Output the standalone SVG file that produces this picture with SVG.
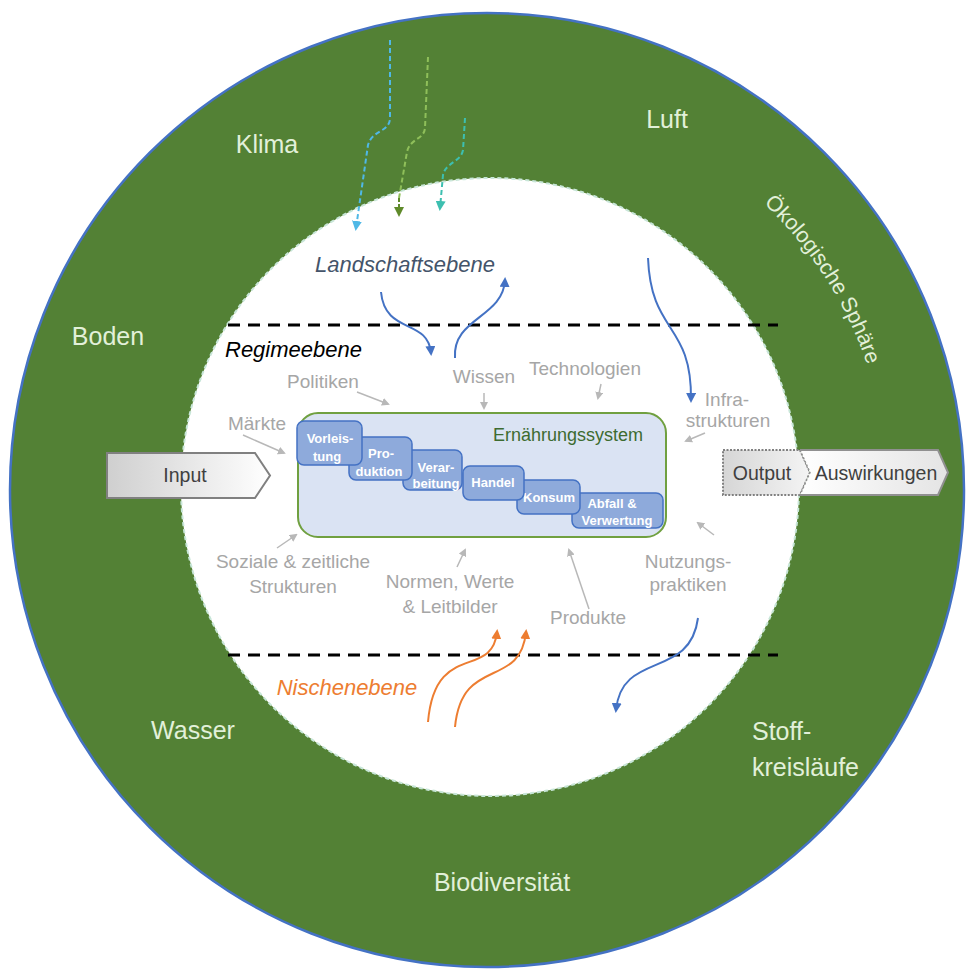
<svg xmlns="http://www.w3.org/2000/svg" width="967" height="976" viewBox="0 0 967 976">
<defs>
<style>
.eco{font-family:"Liberation Sans",Arial,sans-serif;font-size:25px;fill:#e2f0d9}
.lab{font-family:"Liberation Sans",Arial,sans-serif;font-size:19px;fill:#a6a6a6}
.lvl{font-family:"Liberation Sans",Arial,sans-serif;font-size:22px;font-style:italic}
.stp{font-family:"Liberation Sans",Arial,sans-serif;font-size:13px;font-weight:bold;fill:#ffffff;text-anchor:middle}
.box{fill:#8eaadb;stroke:#4472c4;stroke-width:1.5}
.io{font-family:"Liberation Sans",Arial,sans-serif;font-size:19.5px;fill:#404040;text-anchor:middle}
.garr{fill:none;stroke:#b8b8b8;stroke-width:1.5}
.barr{fill:none;stroke:#4472c4;stroke-width:2}
.oarr{fill:none;stroke:#ed7d31;stroke-width:2}
.dash{stroke:#000;stroke-width:3;stroke-dasharray:12 8}
</style>
<marker id="mg" markerWidth="8" markerHeight="8" refX="6" refY="4" orient="auto" markerUnits="userSpaceOnUse"><path d="M0,0 L8,4 L0,8 Z" fill="#b8b8b8"/></marker>
<marker id="mb" markerWidth="10" markerHeight="10" refX="7" refY="5" orient="auto" markerUnits="userSpaceOnUse"><path d="M0,0 L10,5 L0,10 Z" fill="#4472c4"/></marker>
<marker id="mo" markerWidth="10" markerHeight="10" refX="7" refY="5" orient="auto" markerUnits="userSpaceOnUse"><path d="M0,0 L10,5 L0,10 Z" fill="#ed7d31"/></marker>
<marker id="mlb" markerWidth="10" markerHeight="10" refX="7" refY="5" orient="auto" markerUnits="userSpaceOnUse"><path d="M0,0 L10,5 L0,10 Z" fill="#4fb8e6"/></marker>
<marker id="mol" markerWidth="10" markerHeight="10" refX="7" refY="5" orient="auto" markerUnits="userSpaceOnUse"><path d="M0,0 L10,5 L0,10 Z" fill="#5f8a2a"/></marker>
<marker id="mt" markerWidth="10" markerHeight="10" refX="7" refY="5" orient="auto" markerUnits="userSpaceOnUse"><path d="M0,0 L10,5 L0,10 Z" fill="#3dbfb0"/></marker>
<linearGradient id="gin" x1="0" y1="0" x2="1" y2="0"><stop offset="0" stop-color="#cfcfcf"/><stop offset="1" stop-color="#ffffff"/></linearGradient>
<linearGradient id="gout" x1="0" y1="0" x2="1" y2="0"><stop offset="0" stop-color="#d6d6d6"/><stop offset="1" stop-color="#f4f4f4"/></linearGradient>
<linearGradient id="gaus" x1="0" y1="0" x2="1" y2="0"><stop offset="0" stop-color="#ffffff"/><stop offset="1" stop-color="#e4e4e4"/></linearGradient>
<path id="arcEco" d="M738.2,181.3 A400,400 0 0 1 876.8,397.4"/>
</defs>

<g id="ecosphere">
<circle cx="487" cy="490" r="477" fill="#538135" stroke="#4472c4" stroke-width="2.5"/>
<circle cx="490" cy="487" r="309" fill="#ffffff" stroke="#c8e6d8" stroke-width="2" stroke-dasharray="4 3"/>
<text class="eco" x="267" y="153" text-anchor="middle">Klima</text>
<text class="eco" x="667" y="128" text-anchor="middle">Luft</text>
<text class="eco" x="108" y="345" text-anchor="middle">Boden</text>
<text class="eco" x="193" y="739" text-anchor="middle">Wasser</text>
<text class="eco" x="752" y="740">Stoff-</text>
<text class="eco" x="752" y="776">kreisläufe</text>
<text class="eco" x="502" y="891" text-anchor="middle">Biodiversität</text>
<text class="eco" style="font-size:21.5px"><textPath href="#arcEco" startOffset="50%" text-anchor="middle">Ökologische Sphäre</textPath></text>
</g>

<g id="levels">
<line class="dash" x1="228" y1="325" x2="778" y2="325"/>
<line class="dash" x1="228" y1="655" x2="778" y2="655"/>
<text class="lvl" x="405" y="272" text-anchor="middle" fill="#44546a">Landschaftsebene</text>
<text class="lvl" x="225" y="357" fill="#000000">Regimeebene</text>
<text class="lvl" x="347" y="695" text-anchor="middle" fill="#ed7d31">Nischenebene</text>
</g>

<g id="regime-labels">
<text class="lab" x="323" y="388" text-anchor="middle">Politiken</text>
<text class="lab" x="484" y="383" text-anchor="middle">Wissen</text>
<text class="lab" x="585" y="375" text-anchor="middle">Technologien</text>
<text class="lab" x="257" y="430" text-anchor="middle">Märkte</text>
<text class="lab" x="727" y="406" text-anchor="middle">Infra-</text>
<text class="lab" x="728" y="427" text-anchor="middle">strukturen</text>
<text class="lab" x="293" y="568" text-anchor="middle">Soziale &amp; zeitliche</text>
<text class="lab" x="293" y="593" text-anchor="middle">Strukturen</text>
<text class="lab" x="450" y="588" text-anchor="middle">Normen, Werte</text>
<text class="lab" x="450" y="613" text-anchor="middle">&amp; Leitbilder</text>
<text class="lab" x="588" y="624" text-anchor="middle">Produkte</text>
<text class="lab" x="688" y="568" text-anchor="middle">Nutzungs-</text>
<text class="lab" x="688" y="591" text-anchor="middle">praktiken</text>
</g>

<g id="food-system">
<rect x="298" y="413" width="368" height="124" rx="20" fill="#dae3f3" stroke="#70a040" stroke-width="2"/>
<text x="568" y="441" text-anchor="middle" style="font-family:'Liberation Sans',Arial,sans-serif;font-size:18px;fill:#3d6b30">Ernährungssystem</text>
</g>
<g id="abfall"><rect class="box" x="572" y="493" width="91" height="35" rx="7"/><text class="stp" x="612" y="508">Abfall &amp;</text><text class="stp" x="617" y="525">Verwertung</text></g>
<g id="konsum"><rect class="box" x="517" y="480" width="63" height="34" rx="7"/><text class="stp" x="549" y="502">Konsum</text></g>
<g id="handel"><rect class="box" x="463" y="466" width="61" height="34" rx="7"/><text class="stp" x="493" y="487">Handel</text></g>
<g id="verarbeitung"><rect class="box" x="403" y="450" width="59" height="40" rx="7"/><text class="stp" x="436" y="472">Verar-</text><text class="stp" x="436" y="488">beitung</text></g>
<g id="produktion"><rect class="box" x="349" y="437" width="63" height="43" rx="7"/><text class="stp" x="381" y="458">Pro-</text><text class="stp" x="379" y="476">duktion</text></g>
<g id="vorleistung"><rect class="box" x="297" y="421" width="65" height="44" rx="7"/><text class="stp" x="330" y="443">Vorleis-</text><text class="stp" x="327" y="461">tung</text></g>

<g id="input">
<polygon points="107,453 255,453 270,475.5 255,498 107,498" fill="url(#gin)" stroke="#808080" stroke-width="2"/>
<text class="io" x="185" y="482">Input</text>
</g>
<g id="output">
<polygon points="723,450 800,450 810,472.5 800,495 723,495" fill="url(#gout)" stroke="#808080" stroke-width="2" stroke-dasharray="2 1.5"/>
<polygon points="800,450 938,450 948,472.5 938,495 800,495 810,472.5" fill="url(#gaus)" stroke="none"/>
<polyline points="800,450 938,450 948,472.5 938,495 800,495" fill="none" stroke="#909090" stroke-width="2"/>
<polyline points="800,450 810,472.5 800,495" fill="none" stroke="#909090" stroke-width="1.5" stroke-dasharray="2 2"/>
<text class="io" x="762" y="480">Output</text>
<text class="io" x="876" y="480">Auswirkungen</text>
</g>

<g id="connectors">
<path d="M390,40 L390,118 C390,132 372,130 368,145 L356,228" fill="none" stroke="#4fb8e6" stroke-width="2" stroke-dasharray="5 3" marker-end="url(#mlb)"/>
<path d="M428,57 L425,128 C424,140 410,138 407,152 L399,198" fill="none" stroke="#8fbf5a" stroke-width="2" stroke-dasharray="5 3"/>
<path d="M399,198 L399,214" fill="none" stroke="#5f8a2a" stroke-width="2" stroke-dasharray="4 2" marker-end="url(#mol)"/>
<path d="M465,118 L463,150 C461,162 446,162 443,175 L440,208" fill="none" stroke="#3dbfb0" stroke-width="2" stroke-dasharray="5 3" marker-end="url(#mt)"/>
<path class="barr" d="M381,292 C385,335 428,318 431,353" marker-end="url(#mb)"/>
<path class="barr" d="M455,358 C452,318 503,318 505,280" marker-end="url(#mb)"/>
<path class="barr" d="M648,258 C651,335 692,322 691,400" marker-end="url(#mb)"/>
<path class="barr" d="M698,618 C690,680 622,650 616,710" marker-end="url(#mb)"/>
<path class="oarr" d="M428,722 C435,640 492,680 497,632" marker-end="url(#mo)"/>
<path class="oarr" d="M455,727 C462,655 520,690 526,632" marker-end="url(#mo)"/>
<line class="garr" x1="357" y1="392" x2="388" y2="404" marker-end="url(#mg)"/>
<line class="garr" x1="484" y1="393" x2="484" y2="408" marker-end="url(#mg)"/>
<line class="garr" x1="601" y1="384" x2="598" y2="398" marker-end="url(#mg)"/>
<line class="garr" x1="243" y1="435" x2="284" y2="453" marker-end="url(#mg)"/>
<line class="garr" x1="705" y1="433" x2="686" y2="441" marker-end="url(#mg)"/>
<line class="garr" x1="277" y1="548" x2="296" y2="535" marker-end="url(#mg)"/>
<line class="garr" x1="457" y1="567" x2="465" y2="550" marker-end="url(#mg)"/>
<line class="garr" x1="589" y1="609" x2="569" y2="550" marker-end="url(#mg)"/>
<line class="garr" x1="714" y1="535" x2="698" y2="523" marker-end="url(#mg)"/>
</g>
</svg>
